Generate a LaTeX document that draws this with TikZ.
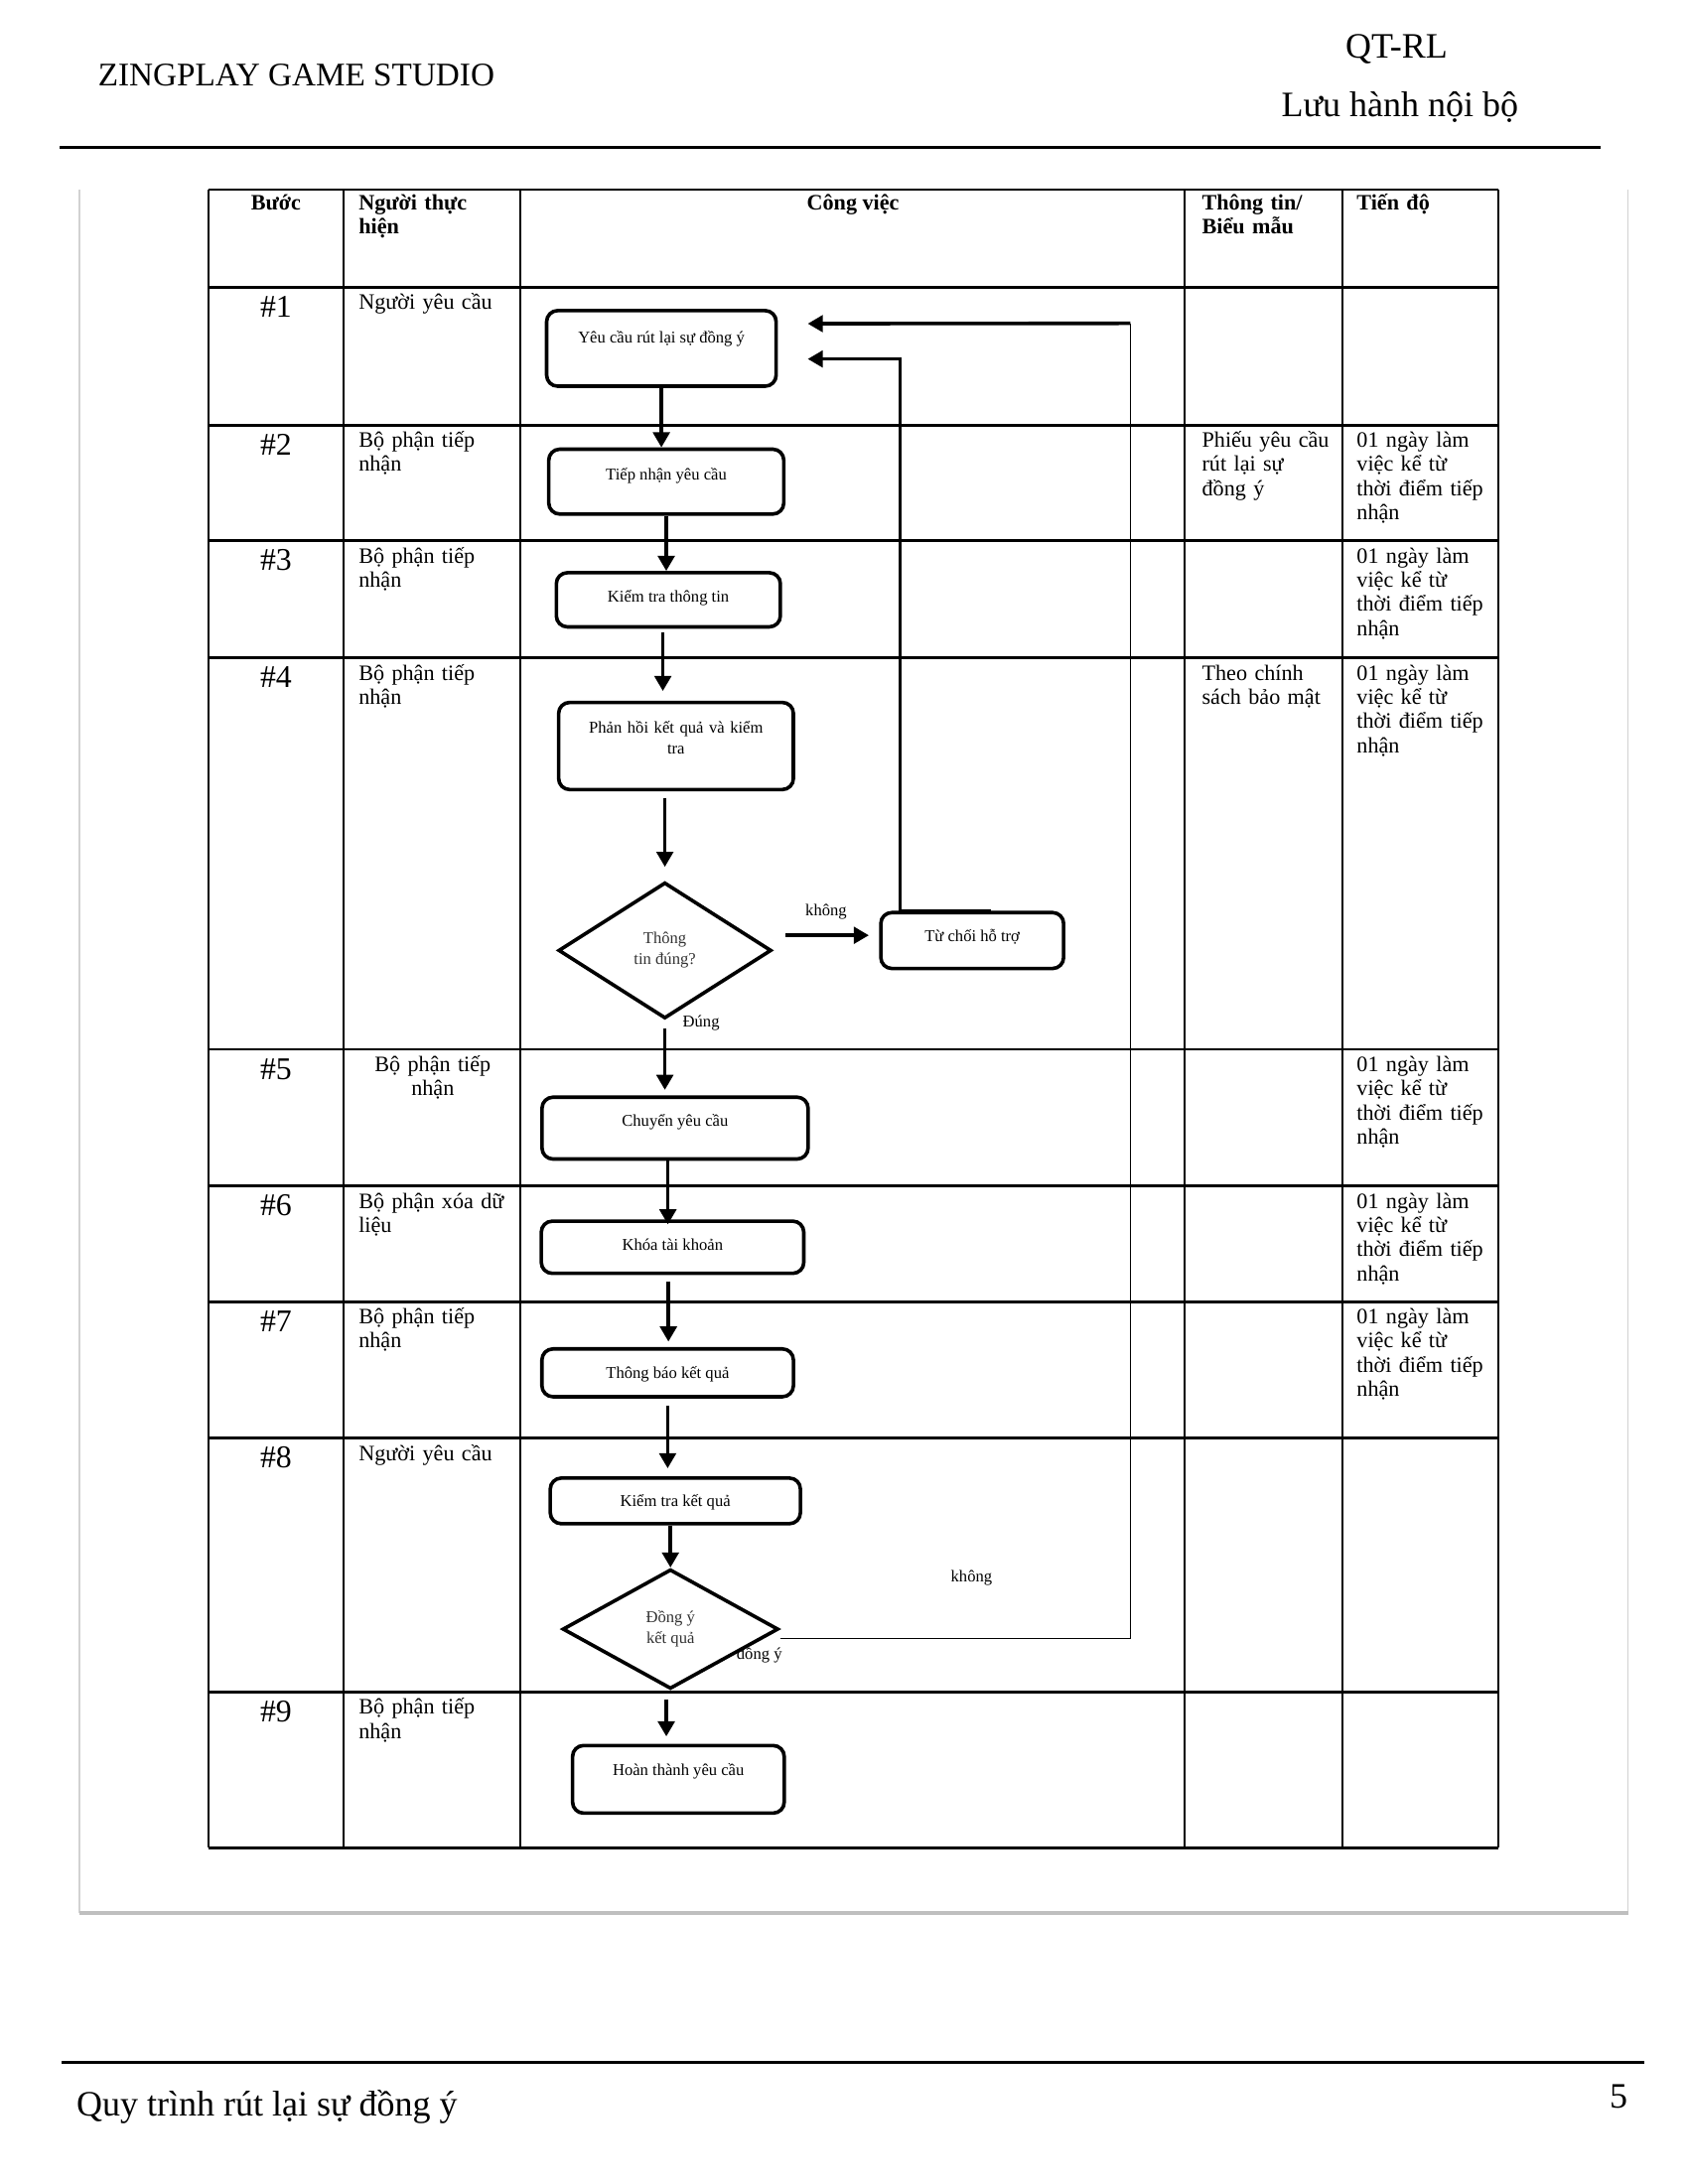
\documentclass[tikz,border=0pt]{standalone}
\usepackage{fontspec}
\setmainfont{Liberation Serif}
\usetikzlibrary{arrows.meta}
\usetikzlibrary{shapes.geometric}

\begin{document}
\begin{tikzpicture}[x=0.017828cm, y=-0.017828cm,
        task/.style={draw, line width=1.3pt, rounded corners=4pt,
            inner xsep=0pt, inner ysep=0pt, align=center,
            font=\fontsize{6}{7.5}\selectfont},
        decision/.style={draw, diamond, line width=1.3pt, inner sep=0pt,
            align=center, text=black!80, font=\fontsize{6}{7.5}\selectfont},
        flow/.style={line width=1.3pt, -{Triangle[length=5.5pt, width=6pt]}},
        thinflow/.style={line width=0.5pt},
        note/.style={inner sep=0pt, font=\fontsize{6}{7}\selectfont},
        cell/.style={inner sep=0pt, anchor=base west, align=left,
            text width=58pt, font=\fontsize{8}{8.8}\selectfont},
        headcell/.style={cell, font=\fontsize{8}{8.8}\selectfont\bfseries},
        headmid/.style={inner sep=0pt, anchor=base,
            font=\fontsize{8}{8.8}\selectfont\bfseries},
        stepno/.style={inner sep=0pt, anchor=base,
            font=\fontsize{11.5}{12}\selectfont},
        pagetext/.style={inner sep=0pt, anchor=base west,
            font=\fontsize{13}{15}\selectfont},
        rowline/.style={line width=1pt},
        colline/.style={line width=0.75pt}]
    \fill[white] (0,0) rectangle (1211,1567.2);
    \useasboundingbox (0,0) rectangle (1211,1567.2);

    % page header and footer
    \node[pagetext, font=\fontsize{12}{14}\selectfont] (studio) at (70,61.8) {ZINGPLAY GAME STUDIO};
    \node[pagetext] (doccode) at (965,42) {QT-RL};
    \node[pagetext] (circulation) at (919,84) {Lưu hành nội bộ};
    \draw[line width=1pt] (43,106) -- (1148,106);
    \draw[line width=1.3pt] (44.5,1480) -- (1179.7,1480);
    \node[pagetext] (doctitle) at (54.6,1518.6) {Quy trình rút lại sự đồng ý};
    \node[pagetext, anchor=base east] (pageno) at (1168,1512.7) {5};

    % grey frame
    \draw[gray!35, line width=0.6pt] (56.9,136) -- (56.9,1373) (1168,136) -- (1168,1373);
    \draw[gray!50, line width=1.5pt] (56.9,1373) -- (1168,1373);

    % table
    \draw[rowline] (149.5,136) -- (1074.8,136);
    \foreach \y in {206, 305, 388, 472, 753, 851, 934, 1032, 1214, 1326} {
        \draw[rowline] (149.5,\y) -- (1074.8,\y);
    }
    \foreach \x in {149.5, 246.7, 373.3, 850, 962.9, 1074.8} {
        \draw[colline] (\x,136) -- (\x,1326);
    }

    \node[headmid] (hstep) at (198,150.4) {Bước};
    \node[headcell] (hwho) at (257,150.4) {Người thực\\hiện};
    \node[headmid] (hwork) at (612,150.4) {Công việc};
    \node[headcell] (hform) at (862,150.4) {Thông tin/\\Biểu mẫu};
    \node[headcell] (htime) at (973,150.4) {Tiến độ};

    \foreach \n/\t in {1/206, 2/305, 3/388, 4/472, 5/753, 6/851, 7/934, 8/1032, 9/1214} {
        \node[stepno] (step\n) at (198,\t+21.5) {\#\n};
    }

    \node[cell] (who1) at (257,222) {Người yêu cầu};
    \foreach \n/\t in {2/305, 3/388, 4/472, 7/934, 9/1214} {
        \node[cell] (who\n) at (257,\t+16) {Bộ phận tiếp\\nhận};
    }
    \node[cell, anchor=base, align=center] (who5) at (310.5,769) {Bộ phận tiếp\\nhận};
    \node[cell] (who6) at (257,867) {Bộ phận xóa dữ\\liệu};
    \node[cell] (who8) at (257,1048) {Người yêu cầu};

    \node[cell, text width=50pt] (form2) at (862,321) {Phiếu yêu cầu\\rút lại sự\\đồng ý};
    \node[cell, text width=50pt] (form4) at (862,488) {Theo chính\\sách bảo mật};
    \foreach \n/\t in {2/305, 3/388, 4/472, 5/753, 6/851, 7/934} {
        \node[cell, text width=50pt] (time\n) at (973,\t+16) {01 ngày làm\\việc kể từ\\thời điểm tiếp\\nhận};
    }

    % flow chart
    \node[task, minimum width=83.5pt, text height=11.75pt, text depth=15.75pt] (ask) at (474.5,250) {Yêu cầu rút lại sự đồng ý};
    \node[task, minimum width=85.5pt, text height=11.2pt, text depth=12.4pt] (receive) at (478,345.6) {Tiếp nhận yêu cầu};
    \node[task, minimum width=81.5pt, text height=10.65pt, text depth=9.05pt] (check) at (479.5,430.4) {Kiểm tra thông tin};
    \node[task, minimum width=85.4pt, text width=85.4pt, text height=11.2pt, text depth=20.5pt] (reply) at (485,535.3) {Phản hồi kết quả và kiểm\\tra};
    \node[decision, minimum width=77.5pt, minimum height=49.5pt] (valid) at (477,682) {Thông\\tin đúng?};
    \node[task, minimum width=66.5pt, text height=10.5pt, text depth=9.85pt] (refuse) at (697.5,674.9) {Từ chối hỗ trợ};
    \node[task, minimum width=96.8pt, text height=10.75pt, text depth=11.75pt] (forward) at (484.3,809.5) {Chuyển yêu cầu};
    \node[task, minimum width=95.5pt, text height=10.75pt, text depth=8.25pt] (lock) at (482.5,895) {Khóa tài khoản};
    \node[task, minimum width=91.5pt, text height=10.65pt, text depth=6.75pt] (notify) at (479,985.1) {Thông báo kết quả};
    \node[task, minimum width=91pt, text height=10.45pt, text depth=6.15pt] (verify) at (484.5,1077) {Kiểm tra kết quả};
    \node[decision, minimum width=78.5pt, minimum height=43.5pt] (accept) at (481,1169) {Đồng ý\\kết quả};
    \node[task, minimum width=77pt, text height=10.9pt, text depth=13.7pt] (done) at (486.7,1276.8) {Hoàn thành yêu cầu};

    \draw[flow] (ask.south) -- (ask.south |- receive.north);
    \draw[flow] (receive.south) -- (receive.south |- check.north);
    \draw[flow, shorten <=1.5pt, shorten >=3.5pt] ([xshift=-2pt]check.south) -- ([xshift=-2pt]check.south |- reply.north);
    \draw[flow, shorten <=2.5pt, shorten >=5pt] (valid.north |- reply.south) -- (valid.north);
    \draw[flow, shorten <=4.5pt, shorten >=3.7pt] ([yshift=5.5pt]valid.east)
        -- node[note, above=5pt] (no1) {không} ([yshift=5.5pt]valid.east -| refuse.west);
    \draw[flow, shorten <=3pt, shorten >=2pt] (valid.south) -- (valid.south |- forward.north);
    \node[note] (yes1) at (503,734.4) {Đúng};
    \draw[flow] ([xshift=6.75pt]refuse.north) -- ([xshift=-26.25pt]refuse.north)
        |- ([xshift=10.85pt, yshift=-3.85pt]ask.east);
    \draw[flow] ([xshift=-2.6pt]forward.south) -- ([xshift=-2.6pt, yshift=-1.85pt]forward.south |- lock.north);
    \draw[flow, shorten <=2.5pt, shorten >=2pt] ([xshift=-1.5pt]lock.south) -- ([xshift=-1.5pt]lock.south |- notify.north);
    \draw[flow, shorten <=2.6pt, shorten >=2.9pt] (notify.south) -- (notify.south |- verify.north);
    \draw[flow] (accept.north |- verify.south) -- (accept.north);
    \draw[flow, shorten <=3.4pt, shorten >=2.65pt] ([xshift=-1.5pt]accept.south) -- ([xshift=-1.5pt]accept.south |- done.north);

    % back loop from the agreement check
    \coordinate (loopturn) at (811,232);
    \draw[thinflow] ([yshift=-3.4pt]accept.east) -| (loopturn);
    \draw[flow] (loopturn) -- ([xshift=10.85pt, yshift=9pt]ask.east);
    \node[note] (no2) at (697,1132.3) {không};
    \node[note] (yes2) at (544.8,1187.7) {đồng ý};
\end{tikzpicture}
\end{document}
